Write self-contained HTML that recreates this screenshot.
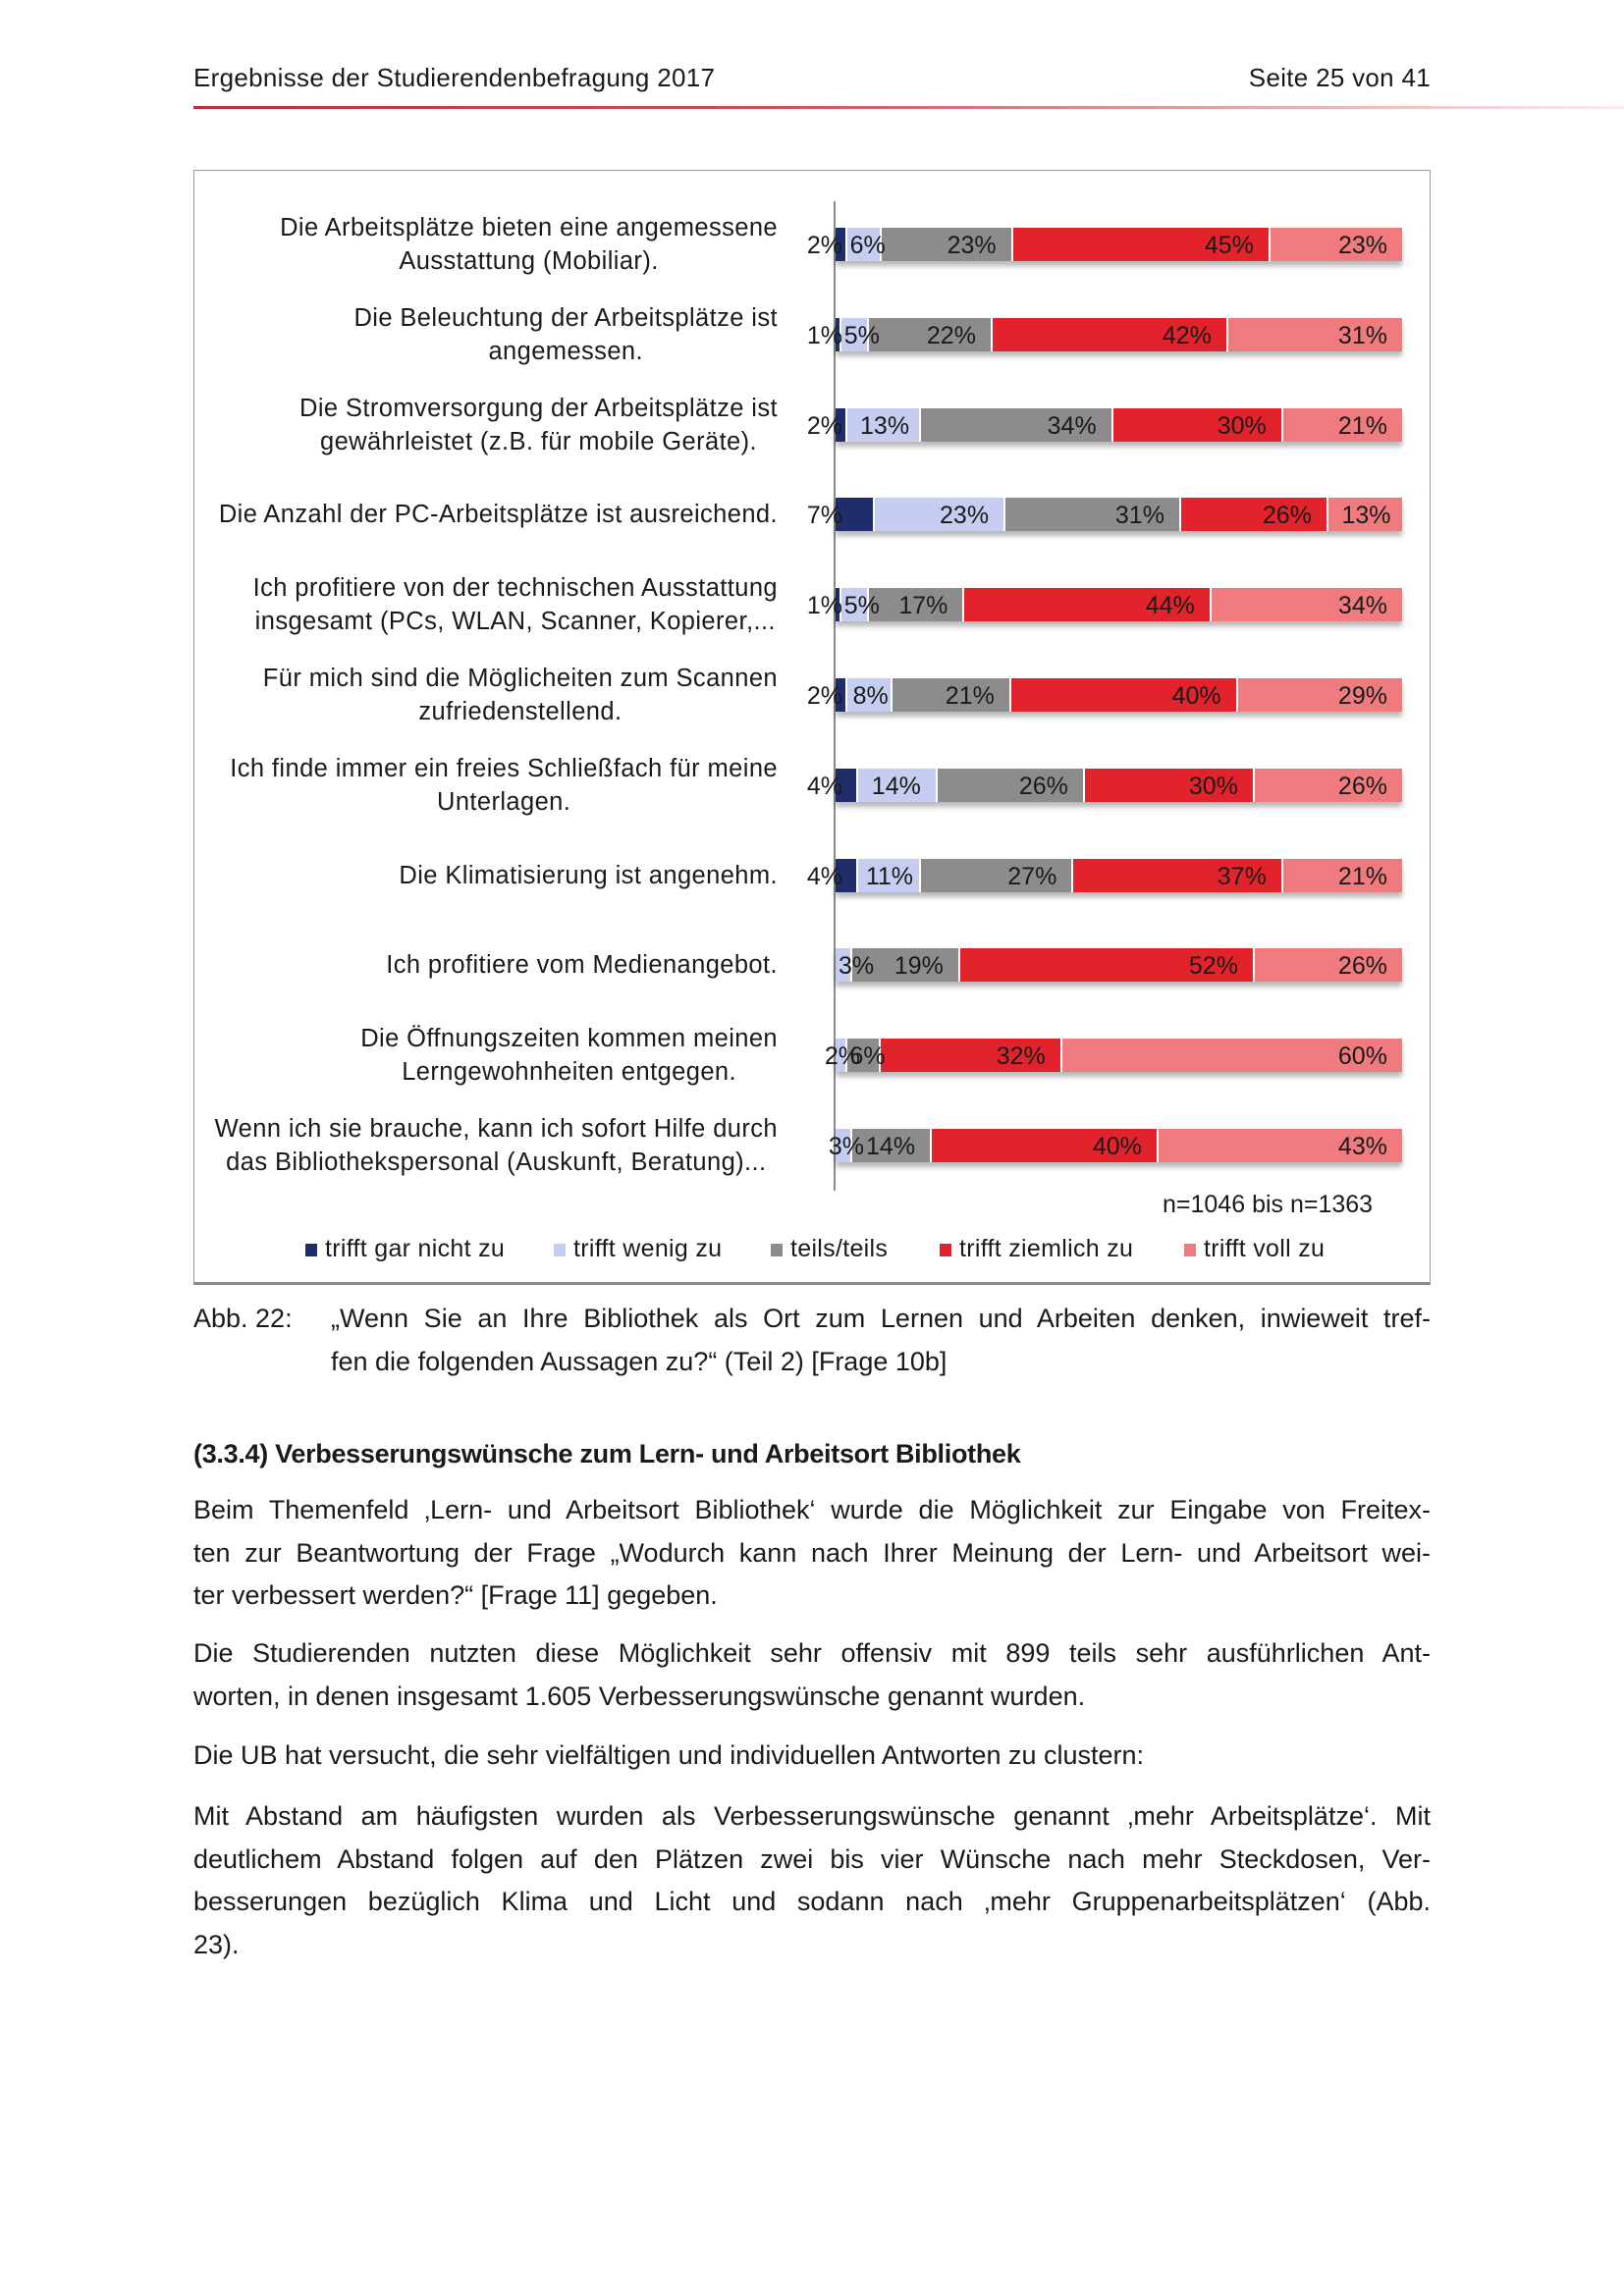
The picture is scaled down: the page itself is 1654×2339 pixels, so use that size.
<!DOCTYPE html>
<html><head><meta charset="utf-8">
<style>
html,body{margin:0;padding:0;background:#fff;}
body{width:1654px;height:2339px;position:relative;overflow:hidden;font-family:"Liberation Sans",sans-serif;color:#1a1a1a;}
.abs{position:absolute;white-space:nowrap;}
.hdr{font-size:26px;top:64px;letter-spacing:0.3px;}
.box{position:absolute;left:197px;top:173px;width:1260px;height:1136px;border:1.5px solid #9a9a9a;border-bottom:3px solid #8a8a8a;box-sizing:border-box;}
.lbl{position:absolute;right:862px;text-align:center;font-size:25.5px;line-height:34px;letter-spacing:0.4px;white-space:nowrap;}
.bar{position:absolute;left:851px;height:34px;width:577px;display:flex;box-shadow:0 5px 5px rgba(0,0,0,0.28);}
.seg{position:relative;height:34px;box-sizing:border-box;border-right:2px solid #fff;}
.seg:last-child{border-right:none;}
.seg span{position:absolute;z-index:3;top:0;line-height:36px;font-size:25px;white-space:nowrap;color:#1a1a1a;}
.pl{position:absolute;z-index:3;line-height:36px;font-size:25px;white-space:nowrap;color:#1a1a1a;text-align:right;}
.leg{position:absolute;top:1258px;font-size:25px;letter-spacing:0.3px;}
.sq{display:inline-block;width:12px;height:13px;margin-right:8px;vertical-align:0px;}
.p{position:absolute;left:197px;width:1260px;font-size:27px;line-height:43.5px;}
.p div{text-align:justify;text-align-last:justify;white-space:nowrap;}
.p div.l{text-align-last:left;}
</style></head><body>
<div class="abs hdr" style="left:197px;">Ergebnisse der Studierendenbefragung 2017</div>
<div class="abs hdr" style="right:197px;">Seite 25 von 41</div>
<div style="position:absolute;left:197px;top:108px;width:1457px;height:3px;background:linear-gradient(to right,#b8303a,#c8505a 40%,#e8b8bc 80%,#fbeeee);"></div>

<div class="box"></div>
<div style="position:absolute;left:849px;top:205px;width:2px;height:1008px;background:#8a8a8a;"></div>
<div id="chart"></div>
<div class="abs" style="left:1184px;top:1213px;font-size:25px;">n=1046 bis n=1363</div>
<div class="leg" style="left:311px;"><span class="sq" style="background:#1f2d6b"></span>trifft gar nicht zu</div>
<div class="leg" style="left:564px;"><span class="sq" style="background:#c5cdf0"></span>trifft wenig zu</div>
<div class="leg" style="left:785px;"><span class="sq" style="background:#8c8c8c"></span>teils/teils</div>
<div class="leg" style="left:957px;"><span class="sq" style="background:#e3232b"></span>trifft ziemlich zu</div>
<div class="leg" style="left:1206px;"><span class="sq" style="background:#ef7b7f"></span>trifft voll zu</div>

<div class="abs" style="left:197px;top:1328px;font-size:27px;">Abb. 22:</div>
<div class="abs" style="left:337px;top:1328px;font-size:27px;width:1120px;">
<div style="text-align:justify;text-align-last:justify;">„Wenn Sie an Ihre Bibliothek als Ort zum Lernen und Arbeiten denken, inwieweit tref-</div>
</div>
<div class="abs" style="left:337px;top:1372px;font-size:27px;">fen die folgenden Aussagen zu?“ (Teil 2) [Frage 10b]</div>

<div class="abs" style="left:197px;top:1466px;font-size:27px;font-weight:bold;letter-spacing:-0.3px;">(3.3.4) Verbesserungswünsche zum Lern- und Arbeitsort Bibliothek</div>

<div class="p" style="top:1517px;">
<div>Beim Themenfeld ‚Lern- und Arbeitsort Bibliothek‘ wurde die Möglichkeit zur Eingabe von Freitex-</div>
<div>ten zur Beantwortung der Frage „Wodurch kann nach Ihrer Meinung der Lern- und Arbeitsort wei-</div>
<div class="l">ter verbessert werden?“ [Frage 11] gegeben.</div>
</div>
<div class="p" style="top:1663px;">
<div>Die Studierenden nutzten diese Möglichkeit sehr offensiv mit 899 teils sehr ausführlichen Ant-</div>
<div class="l">worten, in denen insgesamt 1.605 Verbesserungswünsche genannt wurden.</div>
</div>
<div class="p" style="top:1767px;">
<div class="l">Die UB hat versucht, die sehr vielfältigen und individuellen Antworten zu clustern:</div>
</div>
<div class="p" style="top:1829px;">
<div>Mit Abstand am häufigsten wurden als Verbesserungswünsche genannt ‚mehr Arbeitsplätze‘. Mit</div>
<div>deutlichem Abstand folgen auf den Plätzen zwei bis vier Wünsche nach mehr Steckdosen, Ver-</div>
<div>besserungen bezüglich Klima und Licht und sodann nach ‚mehr Gruppenarbeitsplätzen‘ (Abb.</div>
<div class="l">23).</div>
</div>

<script>
(function(){
var labels=[
["Die Arbeitsplätze bieten eine angemessene","Ausstattung (Mobiliar)."],
["Die Beleuchtung der Arbeitsplätze ist","angemessen."],
["Die Stromversorgung der Arbeitsplätze ist","gewährleistet (z.B. für mobile Geräte)."],
["Die Anzahl der PC-Arbeitsplätze ist ausreichend."],
["Ich profitiere von der technischen Ausstattung","insgesamt (PCs, WLAN, Scanner, Kopierer,..."],
["Für mich sind die Möglicheiten zum Scannen","zufriedenstellend."],
["Ich finde immer ein freies Schließfach für meine","Unterlagen."],
["Die Klimatisierung ist angenehm."],
["Ich profitiere vom Medienangebot."],
["Die Öffnungszeiten kommen meinen","Lerngewohnheiten entgegen."],
["Wenn ich sie brauche, kann ich sofort Hilfe durch","das Bibliothekspersonal (Auskunft, Beratung)..."]];
var data=[[2,6,23,45,23],[1,5,22,42,31],[2,13,34,30,21],[7,23,31,26,13],[1,5,17,44,34],[2,8,21,40,29],[4,14,26,30,26],[4,11,27,37,21],[0,3,19,52,26],[0,2,6,32,60],[0,3,14,40,43]];
var cols=["#1f2d6b","#c5cdf0","#8c8c8c","#e3232b","#ef7b7f"];
var h="";
for(var i=0;i<11;i++){
 var y=232+i*91.8, c=y+17;
 var L=labels[i];
 h+='<div class="lbl" style="top:'+(c-17*L.length)+'px">'+L.join("<br>")+'</div>';
 var d=data[i],s=0;for(var k=0;k<5;k++)s+=d[k];
 var extra="";
 h+='<div class="bar" style="top:'+y+'px">';
 for(var k=0;k<5;k++){
  if(d[k]==0)continue;
  var w=577*d[k]/s;
  var t=d[k]+"%", tw=t.length==2?34:48;
  var lab='';
  if(k==0){
    extra+='<div class="pl" style="top:'+y+'px;right:'+(1654-858)+'px">'+t+'</div>';
  } else if(k==1 && d[0]==0 && i>=9){
    extra+='<div class="pl" style="top:'+y+'px;right:'+(1654-(i==9?876:880))+'px">'+t+'</div>';
  } else if(w>=tw+32){lab='<span style="right:15px">'+t+'</span>';}
  else if(w<tw+6){lab='<span style="left:3px">'+t+'</span>';}
  else{lab='<span style="left:'+((w-tw)/2)+'px">'+t+'</span>';}
  h+='<div class="seg" style="width:'+w+'px;background:'+cols[k]+'">'+lab+'</div>';
 }
 h+='</div>'+extra;
}
document.getElementById("chart").innerHTML=h;
})();
</script>
</body></html>
